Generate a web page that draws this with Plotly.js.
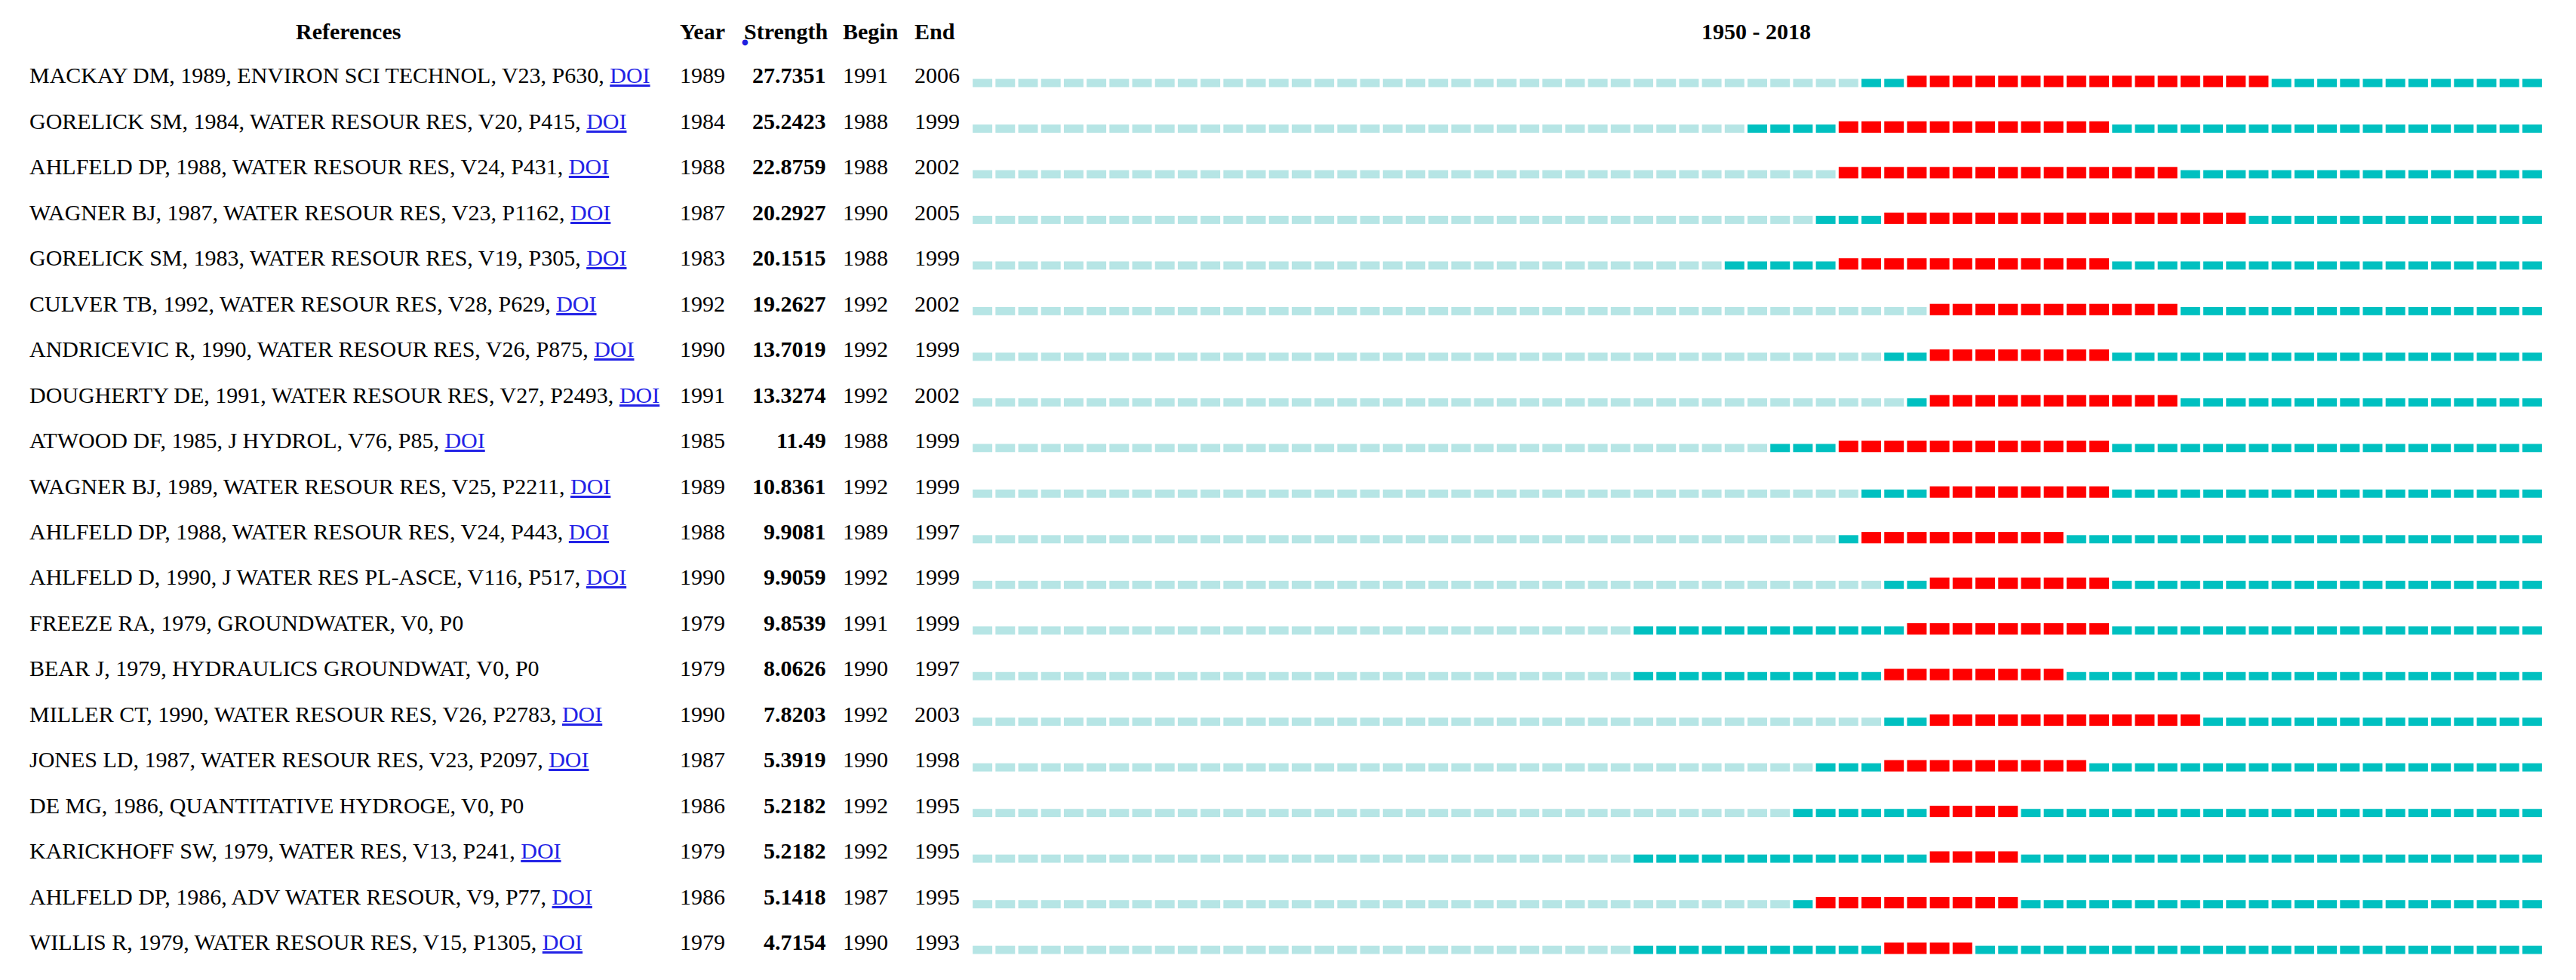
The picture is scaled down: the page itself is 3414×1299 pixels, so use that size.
<!DOCTYPE html>
<html>
<head>
<meta charset="utf-8">
<script src="https://cdn.plot.ly/plotly-3.0.1.min.js"></script>
<style>html,body{margin:0;padding:0;background:#fff;}#chart{width:3414px;height:1299px;}</style>
</head>
<body>
<div id="chart"></div>
<script>
// ---- data ----
const references = [
  "MACKAY DM, 1989, ENVIRON SCI TECHNOL, V23, P630, ",
  "GORELICK SM, 1984, WATER RESOUR RES, V20, P415, ",
  "AHLFELD DP, 1988, WATER RESOUR RES, V24, P431, ",
  "WAGNER BJ, 1987, WATER RESOUR RES, V23, P1162, ",
  "GORELICK SM, 1983, WATER RESOUR RES, V19, P305, ",
  "CULVER TB, 1992, WATER RESOUR RES, V28, P629, ",
  "ANDRICEVIC R, 1990, WATER RESOUR RES, V26, P875, ",
  "DOUGHERTY DE, 1991, WATER RESOUR RES, V27, P2493, ",
  "ATWOOD DF, 1985, J HYDROL, V76, P85, ",
  "WAGNER BJ, 1989, WATER RESOUR RES, V25, P2211, ",
  "AHLFELD DP, 1988, WATER RESOUR RES, V24, P443, ",
  "AHLFELD D, 1990, J WATER RES PL-ASCE, V116, P517, ",
  "FREEZE RA, 1979, GROUNDWATER, V0, P0",
  "BEAR J, 1979, HYDRAULICS GROUNDWAT, V0, P0",
  "MILLER CT, 1990, WATER RESOUR RES, V26, P2783, ",
  "JONES LD, 1987, WATER RESOUR RES, V23, P2097, ",
  "DE MG, 1986, QUANTITATIVE HYDROGE, V0, P0",
  "KARICKHOFF SW, 1979, WATER RES, V13, P241, ",
  "AHLFELD DP, 1986, ADV WATER RESOUR, V9, P77, ",
  "WILLIS R, 1979, WATER RESOUR RES, V15, P1305, "
];
const hasDOI = [true,true,true,true,true,true,true,true,true,true,true,true,false,false,true,true,false,true,true,true];
const pubYear = [1989,1984,1988,1987,1983,1992,1990,1991,1985,1989,1988,1990,1979,1979,1990,1987,1986,1979,1986,1979];
const strength = ["27.7351","25.2423","22.8759","20.2927","20.1515","19.2627","13.7019","13.3274","11.49","10.8361","9.9081","9.9059","9.8539","8.0626","7.8203","5.3919","5.2182","5.2182","5.1418","4.7154"];
const beginYear = [1991,1988,1988,1990,1988,1992,1992,1992,1988,1992,1989,1992,1991,1990,1992,1990,1992,1992,1987,1990];
const endYear = [2006,1999,2002,2005,1999,2002,1999,2002,1999,1999,1997,1999,1999,1997,2003,1998,1995,1995,1995,1993];
const headers = ["References","Year","Strength","Begin","End"];
const rangeStart = 1950, rangeEnd = 2018;

// ---- styles ----
const W = 3414, H = 1299;
const FONT = "Liberation Serif, Times New Roman, serif";
const FS = 30;
const cLight = "#b6e5e5", cTeal = "#00c0c0", cRed = "#ff0000", cDOI = "#2323e6";

// build segments
const light = {x:[],base:[],y:[]}, teal = {x:[],base:[],y:[]}, red = {x:[],base:[],y:[]};
const hN = 0.18, hR = 0.25;
for (let i = 0; i < references.length; i++) {
  for (let yr = rangeStart; yr <= rangeEnd; yr++) {
    if (yr >= beginYear[i] && yr <= endYear[i]) {
      red.x.push(yr); red.base.push(i + hN/2 - hR); red.y.push(hR);
    } else if (yr >= pubYear[i]) {
      teal.x.push(yr); teal.base.push(i - hN/2); teal.y.push(hN);
    } else {
      light.x.push(yr); light.base.push(i - hN/2); light.y.push(hN);
    }
  }
}
function barTrace(s, color) {
  return {type:"bar", x:s.x, y:s.y, base:s.base, width:0.86,
    marker:{color:color, line:{width:0}}, hoverinfo:"skip", showlegend:false};
}
const data = [barTrace(light, cLight), barTrace(teal, cTeal), barTrace(red, cRed)];

const ann = [];
const px = v => v / W;
const textDY = -0.17;
// header
const hy = 1 - 41 / H;
ann.push({text:"<b>"+headers[0]+"</b>", xref:"paper", yref:"paper", x:px(461), y:hy, xanchor:"center", yanchor:"middle", showarrow:false, font:{family:FONT,size:FS,color:"#000"}});
ann.push({text:"<b>"+headers[1]+"</b>", xref:"paper", yref:"paper", x:px(899), y:hy, xanchor:"left", yanchor:"middle", showarrow:false, font:{family:FONT,size:FS,color:"#000"}});
ann.push({text:"<b>"+headers[2]+"</b>", xref:"paper", yref:"paper", x:px(1099), y:hy, xanchor:"right", yanchor:"middle", showarrow:false, font:{family:FONT,size:FS,color:"#000"}});
ann.push({text:"<b>"+headers[3]+"</b>", xref:"paper", yref:"paper", x:px(1115), y:hy, xanchor:"left", yanchor:"middle", showarrow:false, font:{family:FONT,size:FS,color:"#000"}});
ann.push({text:"<b>"+headers[4]+"</b>", xref:"paper", yref:"paper", x:px(1210), y:hy, xanchor:"left", yanchor:"middle", showarrow:false, font:{family:FONT,size:FS,color:"#000"}});
ann.push({text:"<b>"+rangeStart+" - "+rangeEnd+"</b>", xref:"paper", yref:"paper", x:px(2327), y:hy, xanchor:"center", yanchor:"middle", showarrow:false, font:{family:FONT,size:FS,color:"#000"}});
ann.push({text:"●", xref:"paper", yref:"paper", x:px(987), y:1 - 56 / H, xanchor:"center", yanchor:"middle", showarrow:false, font:{family:"DejaVu Sans",size:10,color:"#2020e0"}});

for (let i = 0; i < references.length; i++) {
  const t = references[i] + (hasDOI[i] ? '<span style="color:'+cDOI+';text-decoration:underline">DOI</span>' : '');
  ann.push({text:t, xref:"paper", yref:"y", x:px(37), y:i + textDY, xanchor:"left", yanchor:"middle", showarrow:false, font:{family:FONT,size:FS,color:"#000"}});
  ann.push({text:String(pubYear[i]), xref:"paper", yref:"y", x:px(899), y:i + textDY, xanchor:"left", yanchor:"middle", showarrow:false, font:{family:FONT,size:FS,color:"#000"}});
  ann.push({text:"<b>"+strength[i]+"</b>", xref:"paper", yref:"y", x:px(1097), y:i + textDY, xanchor:"right", yanchor:"middle", showarrow:false, font:{family:FONT,size:FS,color:"#000"}});
  ann.push({text:String(beginYear[i]), xref:"paper", yref:"y", x:px(1115), y:i + textDY, xanchor:"left", yanchor:"middle", showarrow:false, font:{family:FONT,size:FS,color:"#000"}});
  ann.push({text:String(endYear[i]), xref:"paper", yref:"y", x:px(1210), y:i + textDY, xanchor:"left", yanchor:"middle", showarrow:false, font:{family:FONT,size:FS,color:"#000"}});
}

const layout = {
  width: W, height: H,
  margin:{l:0,r:0,t:0,b:0},
  paper_bgcolor:"#fff", plot_bgcolor:"#fff",
  barmode:"overlay",
  showlegend:false,
  xaxis:{range:[rangeStart-0.5, rangeEnd+0.5], domain:[1287/W, 3371/W], visible:false, fixedrange:true},
  yaxis:{range:[19.66, -1.819], domain:[0,1], visible:false, fixedrange:true},
  annotations: ann
};
Plotly.newPlot("chart", data, layout, {staticPlot:true, displayModeBar:false});
</script>
</body>
</html>
